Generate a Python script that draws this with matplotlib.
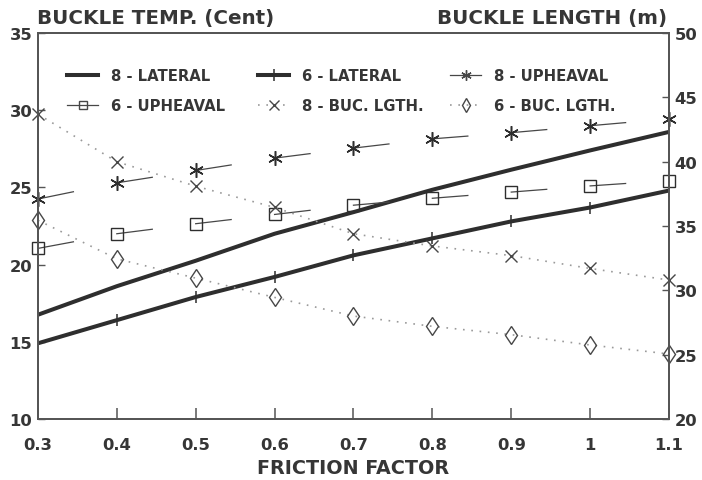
import numpy as np
import matplotlib
matplotlib.use('Agg')
import matplotlib.pyplot as plt

# Dados
fator_atrito = [0.3, 0.4, 0.5, 0.6, 0.7, 0.8, 0.9, 1.0, 1.1]

# Temperatura de flambagem (eixo esquerdo)
lateral_8 = [16.75, 18.6, 20.25, 22.0, 23.4, 24.85, 26.15, 27.4, 28.6]
lateral_6 = [14.9, 16.4, 17.9, 19.2, 20.6, 21.7, 22.8, 23.7, 24.8]
upheaval_8 = [24.25, 25.3, 26.1, 26.9, 27.55, 28.15, 28.55, 29.0, 29.45]
upheaval_6 = [21.05, 22.0, 22.65, 23.25, 23.85, 24.3, 24.7, 25.1, 25.45]

# Comprimento de flambagem (eixo direito)
buc_8 = [43.7, 40.0, 38.1, 36.45, 34.4, 33.45, 32.7, 31.7, 30.8]
buc_6 = [35.45, 32.45, 30.95, 29.45, 28.0, 27.2, 26.55, 25.75, 25.05]

x_ticks = [0.3, 0.4, 0.5, 0.6, 0.7, 0.8, 0.9, 1, 1.1]
x_tick_labels = ['0.3', '0.4', '0.5', '0.6', '0.7', '0.8', '0.9', '1', '1.1']

plt.rcParams['font.family'] = ['DejaVu Sans']
plt.rcParams['font.weight'] = 'bold'

fig = plt.figure(figsize=(7.02, 4.81), dpi=100)
ax = fig.add_axes([0.054, 0.127, 0.899, 0.802])
ax2 = ax.twinx()

cor_escura = '#2e2e2e'
cor_media = '#474747'
cor_clara = '#9a9a9a'
cor_texto = '#363636'

# Linhas laterais (grossas)
ax.plot(fator_atrito, lateral_8, color=cor_escura, linewidth=2.9, solid_capstyle='butt')
ax.plot(fator_atrito, lateral_6, color=cor_escura, linewidth=2.9, marker='|',
        markersize=9, markeredgewidth=1.1, solid_capstyle='butt')


# Segmentos curtos saindo de cada marcador (estilo do gráfico original)
def segmentos(eixo, xs, ys, fracao=0.45, **kw):
    for i in range(len(xs) - 1):
        x0, x1 = xs[i], xs[i + 1]
        y0, y1 = ys[i], ys[i + 1]
        eixo.plot([x0, x0 + fracao * (x1 - x0)], [y0, y0 + fracao * (y1 - y0)], **kw)


segmentos(ax, fator_atrito, upheaval_8, color=cor_media, linewidth=0.9)
segmentos(ax, fator_atrito, upheaval_6, color=cor_media, linewidth=0.9)
ax.plot(fator_atrito, upheaval_8, linestyle='none', marker=(6, 2, 0), markersize=10.5,
        markeredgewidth=1.1, color=cor_escura, clip_on=False)
ax.plot(fator_atrito, upheaval_6, linestyle='none', marker='s', markersize=8,
        markerfacecolor='none', markeredgewidth=1.0, color=cor_escura, clip_on=False)

# Comprimentos de flambagem (pontilhado)
ax2.plot(fator_atrito, buc_8, linestyle=(0, (1, 4)), color=cor_clara, linewidth=1.2)
ax2.plot(fator_atrito, buc_8, linestyle='none', marker='x', markersize=8.5,
         markeredgewidth=1.0, color=cor_media, clip_on=False)
ax2.plot(fator_atrito, buc_6, linestyle=(0, (1, 4)), color=cor_clara, linewidth=1.2)
ax2.plot(fator_atrito, buc_6, linestyle='none', marker='d', markersize=9.5,
         markerfacecolor='none', markeredgewidth=1.0, color=cor_media, clip_on=False)

# Eixos
ax.set_xlim(0.3, 1.1)
ax.set_ylim(10, 35)
ax2.set_ylim(20, 50)
ax.set_xticks(x_ticks)
ax.set_xticklabels(x_tick_labels)
ax.set_yticks([10, 15, 20, 25, 30, 35])
ax2.set_yticks([20, 25, 30, 35, 40, 45, 50])

for a in (ax, ax2):
    for s in a.spines.values():
        s.set_color('#555555')
        s.set_linewidth(1.3)
ax.tick_params(axis='x', direction='in', length=8, width=1.1, colors='#555555',
               labelcolor=cor_texto, labelsize=11.8, pad=13)
ax.tick_params(axis='y', direction='in', length=5, width=1.0, colors='#555555',
               labelcolor=cor_texto, labelsize=11.8, pad=4)
ax2.tick_params(axis='y', direction='in', length=5, width=1.0, colors='#555555',
                labelcolor=cor_texto, labelsize=11.8, pad=4)

ax.set_xlabel('FRICTION FACTOR', fontsize=13.8, color=cor_texto, labelpad=4,
              fontweight='bold')
fig.text(0.053, 0.950, 'BUCKLE TEMP. (Cent)', fontsize=14.3, color=cor_texto,
         ha='left', va='baseline')
fig.text(0.951, 0.950, 'BUCKLE LENGTH (m)', fontsize=14.3, color=cor_texto,
         ha='right', va='baseline')

# Legenda: três colunas separadas
h_l8 = plt.Line2D([], [], color=cor_escura, linewidth=2.9)
h_l6 = plt.Line2D([], [], color=cor_escura, linewidth=2.9, marker='|', markersize=9, markeredgewidth=1.1)
h_u8 = plt.Line2D([], [], color=cor_media, linewidth=0.9, marker=(6, 2, 0), markersize=7.5, markeredgewidth=1.0)
h_u6 = plt.Line2D([], [], color=cor_media, linewidth=0.9, marker='s', markersize=5.5,
                  markerfacecolor='none', markeredgewidth=1.0)
h_b8 = plt.Line2D([], [], color=cor_clara, linewidth=1.2, linestyle=(0, (1, 4)), marker='x',
                  markersize=6.5, markeredgecolor=cor_media, markeredgewidth=1.0)
h_b6 = plt.Line2D([], [], color=cor_clara, linewidth=1.2, linestyle=(0, (1, 4)), marker='d',
                  markersize=7.5, markerfacecolor='none', markeredgecolor=cor_media, markeredgewidth=1.0)

colunas = [
    ([h_l8, h_u6], ['8 - LATERAL', '6 - UPHEAVAL'], 0.0954),
    ([h_l6, h_b8], ['6 - LATERAL', '8 - BUC. LGTH.'], 0.3675),
    ([h_u8, h_b6], ['8 - UPHEAVAL', '6 - BUC. LGTH.'], 0.641),
]
for handles, labels, xpos in colunas:
    leg = fig.legend(handles, labels, loc='upper left', bbox_to_anchor=(xpos, 0.857),
                     frameon=False, borderpad=0, borderaxespad=0,
                     handlelength=2.1, handletextpad=0.85, labelspacing=1.05,
                     prop={'size': 10.7, 'weight': 'bold'})
    for t in leg.get_texts():
        t.set_color(cor_texto)

fig.savefig('out.png', dpi=100)
